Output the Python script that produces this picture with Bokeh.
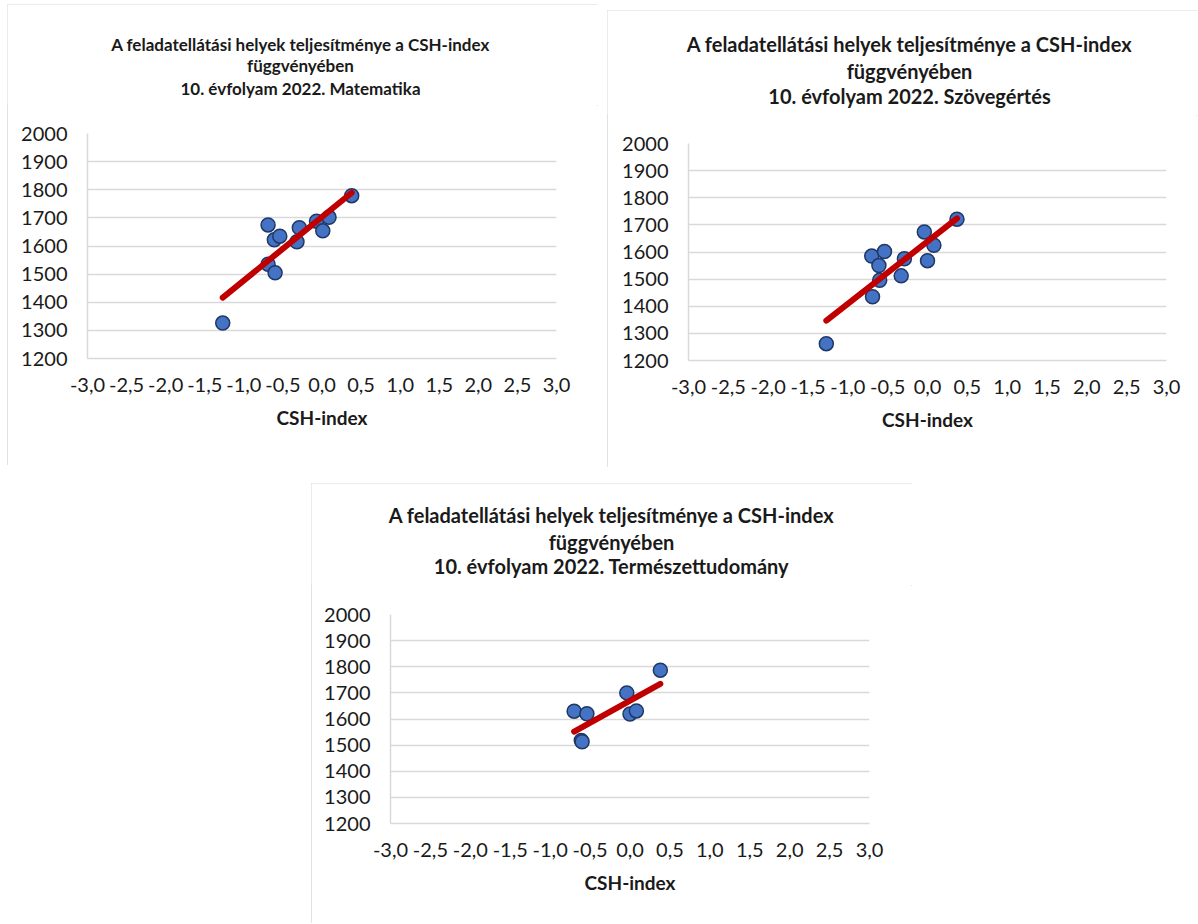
import numpy as np
from bokeh.plotting import figure
from bokeh.models import FixedTicker, CustomJSTickFormatter, Range1d, Spacer
from bokeh.layouts import row, column
from bokeh.core.properties import value
from bokeh.embed import file_html
from bokeh.resources import INLINE

TITLE_LINE1 = "A feladatellátási helyek teljesítménye a CSH-index"
TITLE_LINE2 = "függvényében"
SUBJECTS = ["10. évfolyam 2022. Matematika",
            "10. évfolyam 2022. Szövegértés",
            "10. évfolyam 2022. Természettudomány"]
X_LABEL = "CSH-index"

# Matematika
mat_x = [-1.27, -0.69, -0.61, -0.54, -0.69, -0.60, -0.29, -0.32, -0.07, 0.09, 0.01, 0.38]
mat_y = [1326, 1675, 1622, 1635, 1535, 1505, 1665, 1615, 1688, 1702, 1654, 1779]

# Szövegértés
szov_x = [-1.27, -0.70, -0.54, -0.61, -0.60, -0.69, -0.29, -0.33, -0.04, 0.08, 0.00, 0.37]
szov_y = [1262, 1585, 1602, 1550, 1496, 1435, 1575, 1512, 1674, 1625, 1568, 1721]

# Természettudomány
term_x = [-0.70, -0.54, -0.61, -0.60, -0.04, 0.00, 0.08, 0.38]
term_y = [1630, 1620, 1518, 1513, 1700, 1619, 1631, 1787]

X_TICKS = [-3.0, -2.5, -2.0, -1.5, -1.0, -0.5, 0.0, 0.5, 1.0, 1.5, 2.0, 2.5, 3.0]
Y_TICKS = [1200, 1300, 1400, 1500, 1600, 1700, 1800, 1900, 2000]

FONT = "Lato"
GRID = "#d9d9d9"
TXT = "#1a1a1a"


def make_title(w, th, cx, cys, fs, subject):
    t = figure(width=w, height=th, x_range=Range1d(0, w), y_range=Range1d(0, th),
               min_border_left=0, min_border_right=0, min_border_top=0, min_border_bottom=0,
               x_axis_type=None, y_axis_type=None, output_backend="svg",
               toolbar_location=None, title=None, frame_align=False)
    t.outline_line_color = None
    t.xgrid.visible = False
    t.ygrid.visible = False
    t.text(x=[cx] * 3, y=[th - c for c in cys], text=[TITLE_LINE1, TITLE_LINE2, subject],
           text_align="center", text_baseline="middle", text_font=value(FONT),
           text_font_style="bold", text_font_size=value(fs), text_color=TXT)
    return t


def make_chart(w, h, borders, xs, ys):
    bl, bt, br, bb = borders
    p = figure(width=w, height=h,
               x_range=Range1d(X_TICKS[0], X_TICKS[-1]),
               y_range=Range1d(Y_TICKS[0], Y_TICKS[-1]),
               min_border_left=bl, min_border_right=br,
               min_border_top=bt, min_border_bottom=bb,
               output_backend="svg", toolbar_location=None, title=None, frame_align=False)
    p.outline_line_color = None
    p.xgrid.visible = False
    p.ygrid.grid_line_color = GRID
    p.ygrid.grid_line_width = 1.5

    p.xaxis.ticker = FixedTicker(ticks=X_TICKS)
    p.yaxis.ticker = FixedTicker(ticks=Y_TICKS)
    p.xaxis.formatter = CustomJSTickFormatter(code="return tick.toFixed(1).replace('.', ',');")
    for ax in (p.xaxis[0], p.yaxis[0]):
        ax.axis_line_color = GRID
        ax.axis_line_width = 1.5
        ax.major_tick_line_color = None
        ax.minor_tick_line_color = None
        ax.major_tick_out = 0
        ax.major_tick_in = 0
        ax.minor_tick_out = 0
        ax.major_label_text_font = FONT
        ax.major_label_text_font_size = "20px"
        ax.major_label_text_color = TXT
    p.xaxis.major_label_standoff = 19
    p.yaxis.major_label_standoff = 20
    p.xaxis.axis_label = X_LABEL
    p.xaxis.axis_label_text_font = FONT
    p.xaxis.axis_label_text_font_style = "bold"
    p.xaxis.axis_label_text_font_size = "19px"
    p.xaxis.axis_label_text_color = TXT
    p.xaxis.axis_label_standoff = 11

    p.scatter(xs, ys, size=14, fill_color="#4472C4", line_color="#1F3864", line_width=1.5)
    coef = np.polyfit(xs, ys, 1)
    xe = np.array([min(xs), max(xs)])
    p.line(xe, np.polyval(coef, xe), line_color="#C00000", line_width=6, line_cap="round")
    return p


def make_panel(w, th, ch, cx, cys, fs, subject, borders, xs, ys):
    t = make_title(w, th, cx, cys, fs, subject)
    c = make_chart(w, ch, borders, xs, ys)
    return column(t, c, spacing=0,
                  styles={"outline": "1px solid #d9d9d9", "outline-offset": "-1px"})


panel1 = make_panel(591, 101, 360, 293, [40, 61, 84], "17px", SUBJECTS[0],
                    (80, 28, 42, 107), mat_x, mat_y)
panel2 = make_panel(590, 105, 352, 302, [33, 60, 85], "20px", SUBJECTS[1],
                    (81, 28, 31, 107), szov_x, szov_y)
panel3 = make_panel(601, 102, 338, 300, [31, 58, 82], "20px", SUBJECTS[2],
                    (79, 29, 43, 100), term_x, term_y)

row1 = row(Spacer(width=7), panel1, Spacer(width=9), column(Spacer(height=6), panel2))
row2 = row(Spacer(width=311), panel3)
layout = column(Spacer(height=4), row1, Spacer(height=16), row2)

open("out.html", "w").write(file_html(layout, INLINE))
